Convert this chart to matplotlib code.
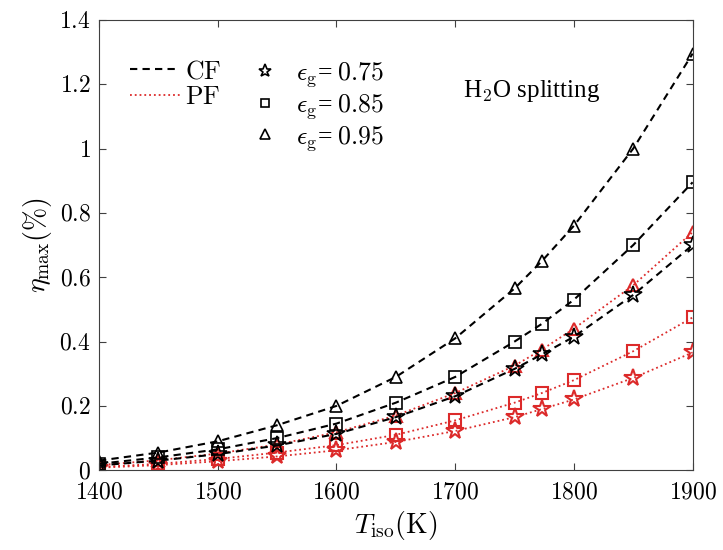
import matplotlib
matplotlib.use("Agg")
import matplotlib.pyplot as plt
from matplotlib.lines import Line2D

plt.rcParams['mathtext.fontset'] = 'cm'
plt.rcParams['font.family'] = 'serif'
plt.rcParams['font.serif'] = ['Liberation Serif', 'DejaVu Serif']

# isothermal temperatures (K)
t_iso = [1400, 1450, 1500, 1550, 1600, 1650, 1700, 1750, 1773, 1800, 1850, 1900]

# counter-flow (CF) efficiencies (%)
cf_075 = [0.015, 0.030, 0.050, 0.077, 0.113, 0.165, 0.230, 0.315, 0.360, 0.415, 0.545, 0.700]
cf_085 = [0.020, 0.040, 0.065, 0.100, 0.145, 0.210, 0.290, 0.400, 0.455, 0.530, 0.700, 0.895]
cf_095 = [0.030, 0.055, 0.090, 0.140, 0.200, 0.290, 0.410, 0.565, 0.650, 0.760, 1.000, 1.295]

# parallel-flow (PF) efficiencies (%)
pf_075 = [0.008, 0.016, 0.028, 0.043, 0.062, 0.088, 0.122, 0.165, 0.190, 0.220, 0.287, 0.366]
pf_085 = [0.010, 0.020, 0.035, 0.055, 0.078, 0.110, 0.155, 0.210, 0.240, 0.280, 0.370, 0.475]
pf_095 = [0.016, 0.031, 0.052, 0.080, 0.118, 0.170, 0.240, 0.325, 0.375, 0.440, 0.575, 0.740]

eps_labels = ['0.75', '0.85', '0.95']
markers = ['*', 's', '^']
msizes = [13, 8, 9]

red = '#dc2a2a'

fig = plt.figure(figsize=(7.23, 5.5), dpi=100)
ax = fig.add_axes([0.137, 0.145, 0.821, 0.819])

for vals, m, ms in zip([pf_075, pf_085, pf_095], markers, msizes):
    ax.plot(t_iso, vals, linestyle=':', color=red, lw=1.3, marker=m, ms=ms,
            mfc='none', mec=red, mew=1.5)

for vals, m, ms in zip([cf_075, cf_085, cf_095], markers, msizes):
    ax.plot(t_iso, vals, linestyle=(0, (3.5, 2.5)), color='black', lw=1.5, marker=m,
            ms=ms, mfc='none', mec='black', mew=1.2)

ax.set_xlim(1400, 1900)
ax.set_ylim(0, 1.4)
ax.set_xticks([1400, 1500, 1600, 1700, 1800, 1900])
ax.set_yticks([0, 0.2, 0.4, 0.6, 0.8, 1.0, 1.2, 1.4])
ax.set_yticklabels(['$0$', '$0.2$', '$0.4$', '$0.6$', '$0.8$', '$1$', '$1.2$', '$1.4$'])
ax.set_xticklabels(['$%d$' % v for v in [1400, 1500, 1600, 1700, 1800, 1900]])
ax.tick_params(direction='in', top=True, right=True, labelsize=17, length=5,
               color='#404040')
ax.tick_params(axis='x', pad=9)
ax.tick_params(axis='y', pad=6)
for sp in ax.spines.values():
    sp.set_color('#404040')
    sp.set_linewidth(0.8)

ax.set_xlabel(r'$T_{\rm iso}(\mathrm{K})$', fontsize=20, labelpad=4)
ax.set_ylabel(r'$\eta_{\rm max}(\%)$', fontsize=20, labelpad=4)

# legend for flow configuration
flow_handles = [Line2D([], [], color='black', lw=1.5, linestyle=(0, (3.5, 2.5))),
                Line2D([], [], color=red, lw=1.3, linestyle=':')]
leg1 = ax.legend(flow_handles, [r'$\mathrm{CF}$', r'$\mathrm{PF}$'], loc='upper left',
                 bbox_to_anchor=(0.0135, 0.962), frameon=False, fontsize=18.5,
                 handlelength=1.95, handletextpad=0.19, labelspacing=0.12)
ax.add_artist(leg1)

# legend for emissivity
eps_handles = [Line2D([], [], color='black', linestyle='none', marker=m, ms=s * 0.75,
                      mfc='none', mew=1.2) for m, s in zip(markers, msizes)]
ax.legend(eps_handles, [r'$\epsilon_{\rm g}$= $%s$' % e for e in eps_labels],
          loc='upper left', bbox_to_anchor=(0.219, 0.962), frameon=False, fontsize=18.5,
          handlelength=1.0, handletextpad=0.7, labelspacing=0.12)

ax.text(0.613, 0.829, r'H$_2$O splitting', transform=ax.transAxes, fontsize=18,
        family='Liberation Serif')

fig.savefig('out.png', dpi=100)
